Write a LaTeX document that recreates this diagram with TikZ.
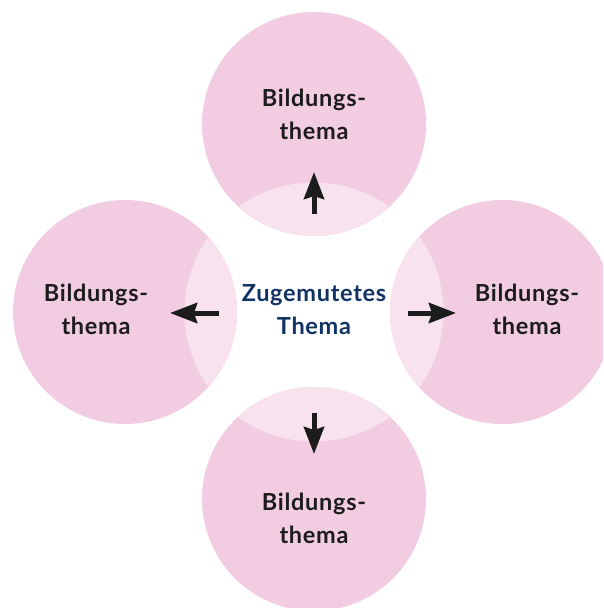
\documentclass[tikz,border=0pt]{standalone}
\usepackage{fontspec}
\setmainfont{Lato}
\newfontfamily\lblfont[LetterSpace=3]{Lato}
\usetikzlibrary{arrows.meta}
\definecolor{pinkA}{RGB}{242,205,225}
\definecolor{pinkB}{RGB}{247,226,237}
\definecolor{ink}{RGB}{28,28,28}
\definecolor{navy}{RGB}{16,50,100}
\tikzset{
  sat/.style={circle, fill=pinkA, minimum size=224pt, inner sep=0pt},
  lbl/.style={align=center, text=ink, font=\lblfont\bfseries\fontsize{23.5}{32.5}\selectfont, anchor=base},
  ctr/.style={align=center, text=navy, font=\lblfont\bfseries\fontsize{23.5}{32.5}\selectfont, anchor=base},
  arr/.style={-{Stealth[length=27pt,width=20pt,inset=3pt]}, line width=5pt, draw=ink}
}
\begin{document}
\begin{tikzpicture}[x=1pt,y=-1pt]
\useasboundingbox (0,0) rectangle (603,608);
\clip (0,0) rectangle (603,608);
% satellites
\node[sat] (T) at (314,124) {};
\node[sat] (L) at (125,312) {};
\node[sat] (R) at (502,312) {};
\node[sat] (B) at (314,499) {};
% lens overlaps with the (invisible) central circle
\foreach \p in {(314,124),(125,312),(502,312),(314,499)}{
  \begin{scope}
    \clip \p circle (112pt);
    \fill[pinkB] (314,312) circle (129.5pt);
  \end{scope}
}
% labels (anchor = baseline of last line)
\node[lbl] (tT) at (314,139) {Bildungs-\\thema};
\node[lbl] (tL) at (96,334) {Bildungs-\\thema};
\node[lbl] (tR) at (527,334) {Bildungs-\\thema};
\node[lbl] (tB) at (314,543) {Bildungs-\\thema};
\node[ctr] (C) at (314,334) {Zugemutetes\\Thema};
% arrow ends
\coordinate (aT0) at (314,214); \coordinate (aT1) at (314,172);
\coordinate (aL0) at (219,313); \coordinate (aL1) at (170,313);
\coordinate (aR0) at (408,313); \coordinate (aR1) at (456,313);
\coordinate (aB0) at (314,413); \coordinate (aB1) at (314,454);
\draw[arr] (aT0) -- (aT1);
\draw[arr] (aL0) -- (aL1);
\draw[arr] (aR0) -- (aR1);
\draw[arr] (aB0) -- (aB1);
\end{tikzpicture}
\end{document}
